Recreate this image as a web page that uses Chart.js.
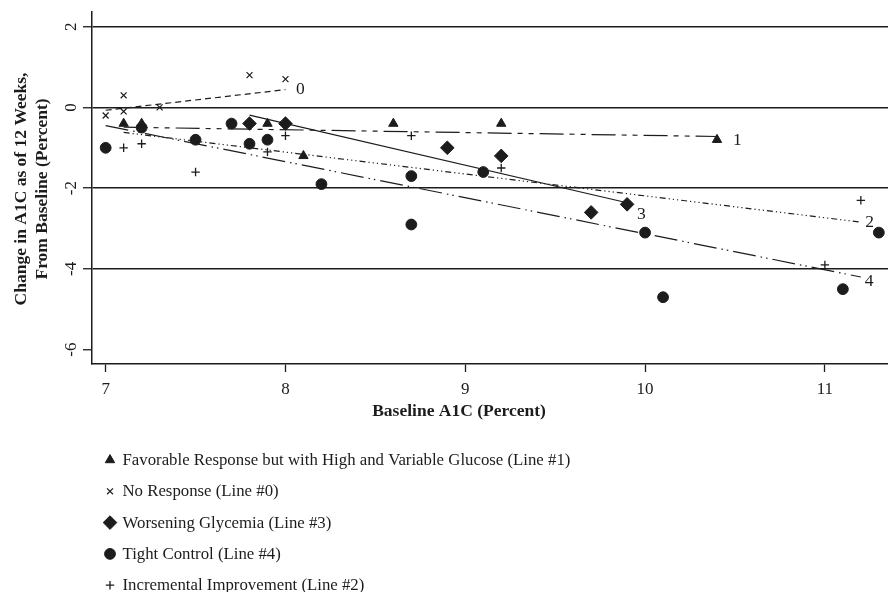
<!DOCTYPE html>
<html>
<head>
<meta charset="utf-8">
<script src="https://cdn.jsdelivr.net/npm/chart.js@4.4.1/dist/chart.umd.min.js"></script>
<style>
  html, body { margin: 0; padding: 0; background: #ffffff; }
  #wrap { width: 888px; height: 592px; position: relative; }
</style>
</head>
<body>
<div id="wrap"><canvas id="c" width="888" height="592"></canvas></div>
<script>
// ---------- DATA ----------
const xTickValues = [7, 8, 9, 10, 11];
const yTickValues = [2, 0, -2, -4, -6];
const yGridValues = [2, 0, -2, -4];

const seriesNames = [
  'Favorable Response but with High and Variable Glucose (Line #1)',
  'No Response (Line #0)',
  'Worsening Glycemia (Line #3)',
  'Tight Control (Line #4)',
  'Incremental Improvement (Line #2)'
];

// Favorable Response (triangles)
const favX = [7.1, 7.2, 7.9, 8.1, 8.6, 9.2, 10.4];
const favY = [-0.4, -0.4, -0.4, -1.2, -0.4, -0.4, -0.8];
// No Response (x marks)
const noX = [7.0, 7.1, 7.1, 7.3, 7.8, 8.0];
const noY = [-0.2, 0.3, -0.1, 0.0, 0.8, 0.7];
// Worsening Glycemia (diamonds)
const worX = [7.8, 8.0, 8.9, 9.2, 9.7, 9.9];
const worY = [-0.4, -0.4, -1.0, -1.2, -2.6, -2.4];
// Tight Control (circles)
const tightX = [7.0, 7.2, 7.5, 7.7, 7.8, 7.9, 8.2, 8.7, 8.7, 9.1, 10.0, 10.1, 11.1, 11.3];
const tightY = [-1.0, -0.5, -0.8, -0.4, -0.9, -0.8, -1.9, -1.7, -2.9, -1.6, -3.1, -4.7, -4.5, -3.1];
// Incremental Improvement (plus marks)
const incX = [7.1, 7.2, 7.5, 7.9, 8.0, 8.7, 9.2, 11.0, 11.2];
const incY = [-1.0, -0.9, -1.6, -1.1, -0.7, -0.7, -1.5, -3.9, -2.3];

// Fitted lines (end points)
const line0X = [7.0, 8.0];   const line0Y = [-0.07, 0.44];
const line1X = [7.1, 10.4];  const line1Y = [-0.49, -0.72];
const line2X = [7.1, 11.2];  const line2Y = [-0.62, -2.84];
const line3X = [7.8, 9.9];   const line3Y = [-0.19, -2.36];
const line4X = [7.0, 11.2];  const line4Y = [-0.45, -4.20];
const lineTags = ['0', '1', '2', '3', '4'];

// ---------- STYLE ----------
const INK = '#1c1c1c';
const SERIF = "'Liberation Serif', 'Times New Roman', Times, serif";
const labelOffsets = { '0': [10.5, 4], '1': [16, 8.5], '2': [4.5, 4.5], '3': [10, 16], '4': [4, 8.6] };

const pts = (xs, ys) => xs.map((x, i) => ({ x: x, y: ys[i] }));

function scatterSet(name, xs, ys, style, radius, bw, filled) {
  return {
    type: 'scatter', label: name, data: pts(xs, ys),
    pointStyle: style, pointRadius: radius, pointHoverRadius: radius,
    pointBorderWidth: bw, borderColor: INK,
    backgroundColor: filled ? INK : 'rgba(0,0,0,0)',
    pointBackgroundColor: filled ? INK : 'rgba(0,0,0,0)',
    pointBorderColor: INK, showLine: false, isMarker: true, order: 1
  };
}
function lineSet(tag, xs, ys, dash) {
  return {
    type: 'line', label: 'Line ' + tag, tag: tag, data: pts(xs, ys),
    borderColor: INK, borderWidth: 1.2, borderDash: dash,
    pointRadius: 0, pointHoverRadius: 0, fill: false, tension: 0, order: 2
  };
}

const datasets = [
  scatterSet(seriesNames[0], favX, favY, 'triangle', 5.4, 1, true),
  scatterSet(seriesNames[1], noX, noY, 'crossRot', 4.2, 1.2, false),
  scatterSet(seriesNames[2], worX, worY, 'rectRot', 6.8, 1, true),
  scatterSet(seriesNames[3], tightX, tightY, 'circle', 5.4, 1, true),
  scatterSet(seriesNames[4], incX, incY, 'cross', 4.2, 1.3, false),
  lineSet(lineTags[0], line0X, line0Y, [6, 4]),
  lineSet(lineTags[1], line1X, line1Y, [24, 6, 5, 6, 5, 6]),
  lineSet(lineTags[2], line2X, line2Y, [6, 3, 1.2, 3, 1.2, 3, 1.2, 3]),
  lineSet(lineTags[3], line3X, line3Y, []),
  lineSet(lineTags[4], line4X, line4Y, [23, 5, 1.5, 4, 1.5, 5])
];

function drawMarker(ctx, ds, x, y) {
  const opts = {
    pointStyle: ds.pointStyle, radius: ds.pointRadius, rotation: 0,
    borderWidth: ds.pointBorderWidth
  };
  ctx.save();
  ctx.fillStyle = ds.pointBackgroundColor;
  ctx.strokeStyle = ds.pointBorderColor;
  ctx.lineWidth = ds.pointBorderWidth;
  if (Chart.helpers && Chart.helpers.drawPoint) {
    Chart.helpers.drawPoint(ctx, opts, x, y);
  }
  ctx.restore();
}

const annotate = {
  id: 'annotate',
  afterDraw(chart) {
    const ctx = chart.ctx;
    const ys = chart.scales.y;
    ctx.save();
    ctx.fillStyle = INK;

    // y tick labels (rotated, reading bottom to top)
    ctx.font = '17px ' + SERIF;
    ctx.textAlign = 'center';
    ctx.textBaseline = 'alphabetic';
    yTickValues.forEach(v => {
      const py = ys.getPixelForValue(v);
      ctx.save();
      ctx.translate(76, py);
      ctx.rotate(-Math.PI / 2);
      ctx.fillText(String(v), 0, 0);
      ctx.restore();
    });

    // y axis title
    const cy = (chart.chartArea.top + chart.chartArea.bottom) / 2 + 1;
    ctx.font = 'bold 17.5px ' + SERIF;
    ctx.save();
    ctx.translate(26, cy);
    ctx.rotate(-Math.PI / 2);
    ctx.fillText('Change in A1C as of 12 Weeks,', 0, 0);
    ctx.restore();
    ctx.save();
    ctx.translate(47, cy);
    ctx.rotate(-Math.PI / 2);
    ctx.fillText('From Baseline (Percent)', 0, 0);
    ctx.restore();

    // x axis title
    ctx.font = 'bold 17.5px ' + SERIF;
    ctx.textAlign = 'center';
    ctx.fillText('Baseline A1C (Percent)', 459, 416);

    // line labels at fitted-line ends
    ctx.font = '17.5px ' + SERIF;
    ctx.textAlign = 'left';
    chart.data.datasets.forEach((ds, i) => {
      if (!ds.tag) return;
      const meta = chart.getDatasetMeta(i);
      const last = meta.data[meta.data.length - 1];
      const off = labelOffsets[ds.tag];
      ctx.fillText(ds.tag, last.x + off[0], last.y + off[1]);
    });

    // legend (one entry per row)
    ctx.font = '16.8px ' + SERIF;
    ctx.textAlign = 'left';
    let row = 0;
    chart.data.datasets.forEach(ds => {
      if (!ds.isMarker) return;
      const baseY = 465 + row * 31.3;
      drawMarker(ctx, ds, 110, baseY - 5);
      ctx.fillStyle = INK;
      ctx.fillText(ds.label, 122.5, baseY);
      row++;
    });
    ctx.restore();
  }
};

new Chart(document.getElementById('c'), {
  type: 'scatter',
  data: { datasets: datasets },
  plugins: [annotate],
  options: {
    responsive: false,
    animation: false,
    devicePixelRatio: 1,
    layout: { autoPadding: false, padding: { top: 12, left: 0, right: 0, bottom: 0 } },
    plugins: { legend: { display: false }, tooltip: { enabled: false } },
    scales: {
      x: {
        type: 'linear', position: 'bottom', min: 6.924, max: 11.351,
        afterBuildTicks: s => { s.ticks = xTickValues.map(v => ({ value: v })); },
        afterFit: s => { s.height = 228; },
        grid: { drawOnChartArea: false, drawTicks: true, tickLength: 8, tickColor: INK, tickWidth: 1.3 },
        border: { display: true, color: INK, width: 1.5 },
        ticks: { color: INK, font: { family: SERIF, size: 17 }, padding: 7, maxRotation: 0, autoSkip: false }
      },
      y: {
        type: 'linear', position: 'left', min: -6.354, max: 2.363,
        afterBuildTicks: s => { s.ticks = yTickValues.map(v => ({ value: v })); },
        afterFit: s => { s.width = 92; },
        grid: {
          drawOnChartArea: true, drawTicks: true, tickLength: 9,
          color: c => (c.tick && yGridValues.includes(c.tick.value)) ? INK : 'rgba(0,0,0,0)',
          tickColor: INK, lineWidth: 1.5, tickWidth: 1.3
        },
        border: { display: true, color: INK, width: 1.5 },
        ticks: { display: false }
      }
    }
  }
});
</script>
</body>
</html>
